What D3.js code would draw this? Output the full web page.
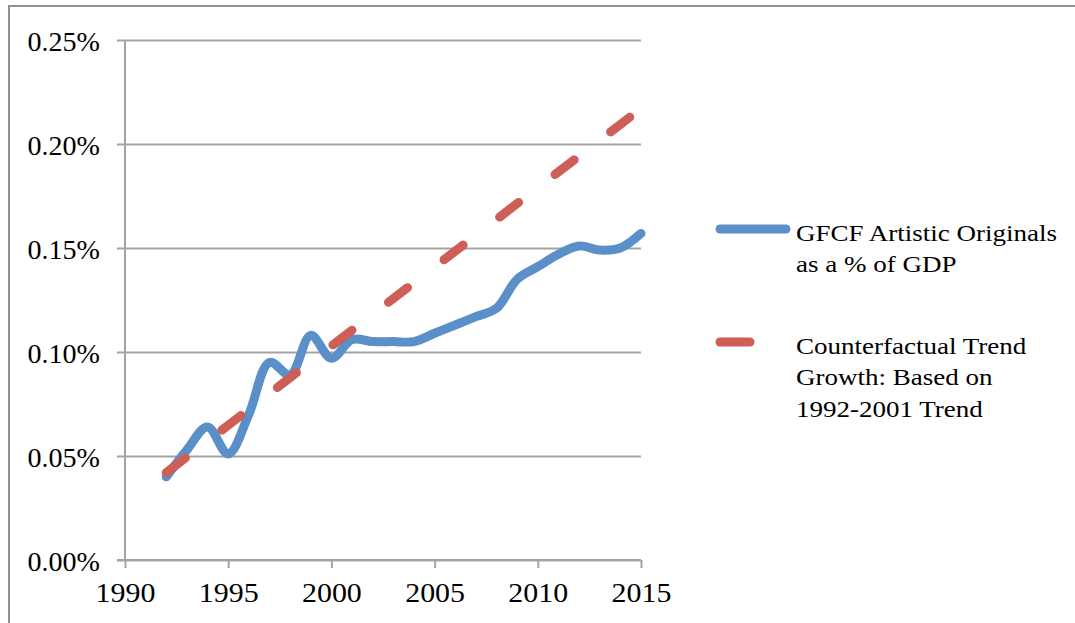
<!DOCTYPE html>
<html>
<head>
<meta charset="utf-8">
<script src="https://cdn.jsdelivr.net/npm/d3@7"></script>
<style>
  html, body { margin: 0; padding: 0; background: #ffffff; }
  svg { display: block; }
  text { font-family: "Liberation Serif", "Times New Roman", serif; fill: #000; }
</style>
</head>
<body>
<svg id="chart" width="1075" height="623"></svg>
<script>
// Years covered by both series
const years = [1992, 1993, 1994, 1995, 1996, 1997, 1998, 1999, 2000, 2001, 2002, 2003,
               2004, 2005, 2006, 2007, 2008, 2009, 2010, 2011, 2012, 2013, 2014, 2015];

// GFCF in artistic originals, % of GDP
const gfcfArtistic = [0.040, 0.053, 0.064, 0.051, 0.070, 0.095, 0.089, 0.108, 0.097, 0.106, 0.105, 0.105,
                      0.105, 0.109, 0.113, 0.117, 0.121, 0.135, 0.141, 0.147, 0.151, 0.149, 0.150, 0.157];

// Counterfactual trend growth (1992-2001 trend extended), % of GDP
const counterfactual = [0.0420, 0.0496, 0.0572, 0.0648, 0.0724, 0.0800, 0.0877, 0.0953, 0.1029, 0.1105, 0.1181, 0.1257,
                        0.1333, 0.1409, 0.1485, 0.1561, 0.1637, 0.1714, 0.1790, 0.1866, 0.1942, 0.2018, 0.2094, 0.2170];

const xTicks = [1990, 1995, 2000, 2005, 2010, 2015];
const yTicks = [0, 0.05, 0.10, 0.15, 0.20, 0.25];

const legendItems = [
  { lines: ["GFCF Artistic Originals", "as a % of GDP"], color: "#5b8fc9", dashed: false },
  { lines: ["Counterfactual Trend", "Growth: Based on", "1992-2001 Trend"], color: "#cd5f57", dashed: true }
];

const svg = d3.select("#chart");
const W = 1075, H = 623;

svg.append("rect").attr("width", W).attr("height", H).attr("fill", "#ffffff");

// outer frame (top and left edges visible)
svg.append("path")
  .attr("d", `M9,${H} L9,6 L${W},6`)
  .attr("fill", "none")
  .attr("stroke", "#909090")
  .attr("stroke-width", 2);

const plot = { left: 125, right: 641, top: 40, bottom: 560 };

const x = d3.scaleLinear().domain([1990, 2015]).range([plot.left, plot.right]);
const y = d3.scaleLinear().domain([0, 0.25]).range([plot.bottom, plot.top]);

const gridColor = "#a3a3a3";
const labelSize = 26.5;

// horizontal gridlines with left tick stubs
const yAxis = d3.axisLeft(y)
  .tickValues(yTicks)
  .tickSize(-(plot.right - plot.left))
  .tickSizeOuter(0)
  .tickFormat(d => d3.format(".2f")(d) + "%");

const gy = svg.append("g")
  .attr("transform", `translate(${plot.left},0)`)
  .call(yAxis);
gy.select(".domain").remove();
gy.selectAll(".tick line")
  .attr("x1", -8)
  .attr("stroke", gridColor)
  .attr("stroke-width", 2);
gy.selectAll(".tick text")
  .attr("x", 0)
  .attr("dy", "0.4em")
  .attr("font-size", labelSize)
  .attr("transform", "translate(-25,0) scale(1.06,1)")
  .style("font-family", "'Liberation Serif', serif");

// vertical axis line
svg.append("line")
  .attr("x1", plot.left).attr("x2", plot.left)
  .attr("y1", plot.top).attr("y2", plot.bottom)
  .attr("stroke", gridColor).attr("stroke-width", 2);

// x axis
const xAxis = d3.axisBottom(x)
  .tickValues(xTicks)
  .tickSize(8)
  .tickSizeOuter(0)
  .tickFormat(d3.format("d"));

const gx = svg.append("g")
  .attr("transform", `translate(0,${plot.bottom})`)
  .call(xAxis);
gx.select(".domain")
  .attr("d", `M${plot.left - 8},0H${plot.right}`)
  .attr("stroke", gridColor).attr("stroke-width", 2);
gx.selectAll(".tick line").attr("stroke", gridColor).attr("stroke-width", 2);
gx.selectAll(".tick text")
  .attr("y", 0)
  .attr("dy", 0)
  .attr("font-size", labelSize)
  .attr("transform", "translate(0,42) scale(1.13,1)")
  .style("font-family", "'Liberation Serif', serif");

// series lines
const smoothLine = d3.line()
  .x((d, i) => x(years[i]))
  .y(d => y(d))
  .curve(d3.curveCatmullRom.alpha(0.5));

const straightLine = d3.line()
  .x((d, i) => x(years[i]))
  .y(d => y(d));

svg.append("path")
  .datum(gfcfArtistic)
  .attr("d", smoothLine)
  .attr("fill", "none")
  .attr("stroke", legendItems[0].color)
  .attr("stroke-width", 9)
  .attr("stroke-linecap", "round")
  .attr("stroke-linejoin", "round");

svg.append("path")
  .datum(counterfactual)
  .attr("d", straightLine)
  .attr("fill", "none")
  .attr("stroke", legendItems[1].color)
  .attr("stroke-width", 9)
  .attr("stroke-dasharray", "24 46")
  .attr("stroke-linecap", "round");

// legend
const legend = svg.append("g");
const legendRows = [241, 354];
const lineH = 31.3;
legendItems.forEach((item, k) => {
  const base = legendRows[k];
  legend.append("line")
    .attr("x1", 720)
    .attr("x2", item.dashed ? 750 : 786)
    .attr("y1", base - 12).attr("y2", base - 12)
    .attr("stroke", item.color)
    .attr("stroke-width", 9)
    .attr("stroke-linecap", "round");
  item.lines.forEach((t, j) => {
    legend.append("text")
      .attr("transform", `translate(796,${base + j * lineH}) scale(1.14,1)`)
      .attr("font-size", 23.7)
      .text(t);
  });
});
</script>
</body>
</html>
